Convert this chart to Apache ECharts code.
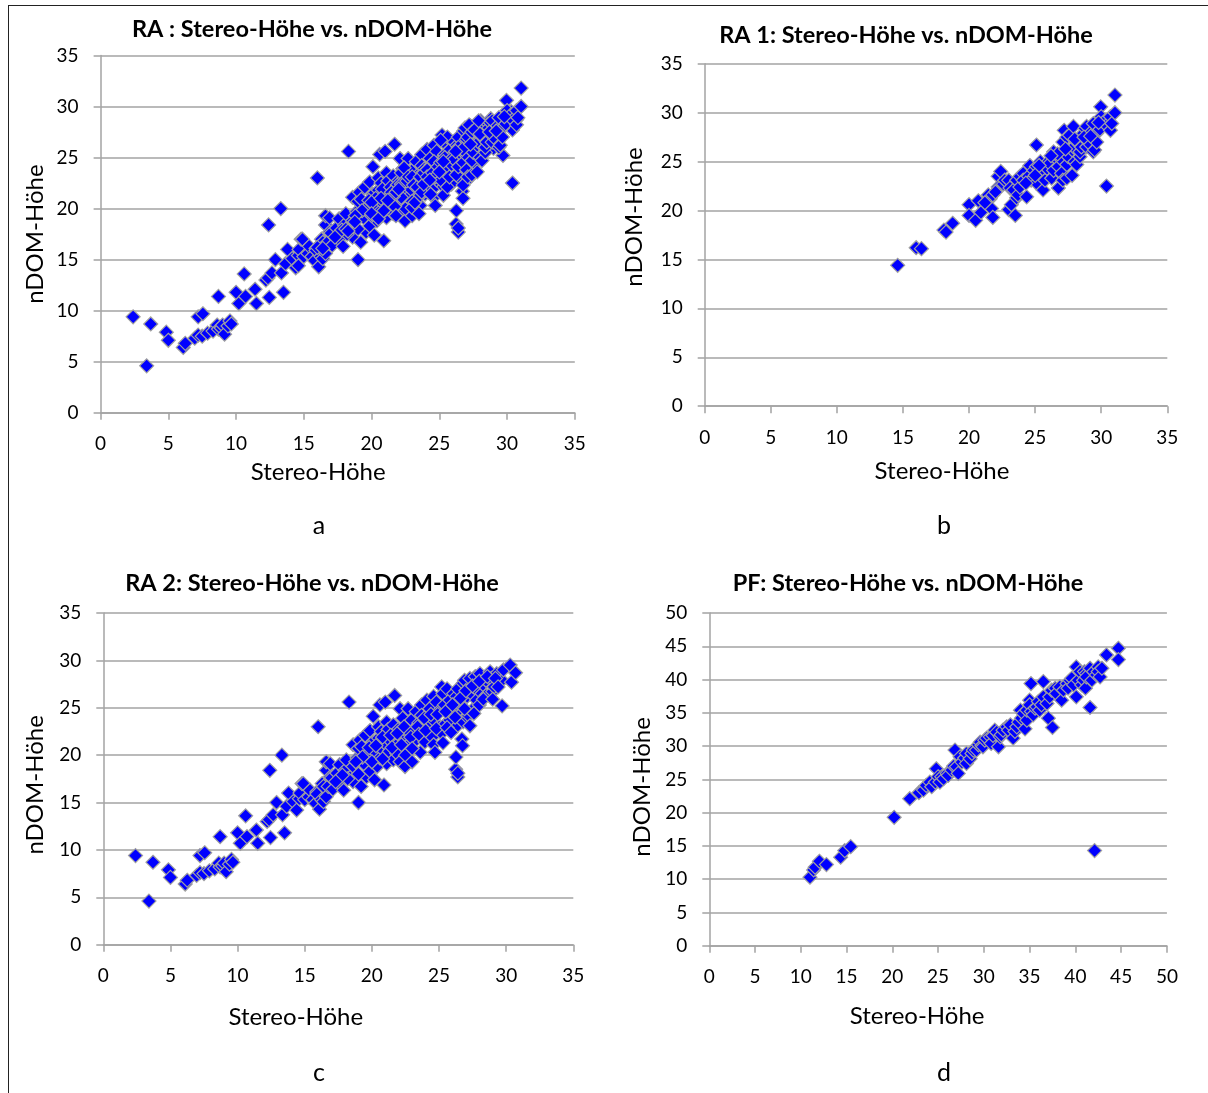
<!DOCTYPE html>
<html>
<head>
<meta charset="utf-8">
<script src="https://cdn.jsdelivr.net/npm/echarts@6/dist/echarts.min.js"></script>
<style>
html,body{margin:0;padding:0;background:#fff;}
#chart{width:1208px;height:1093px;}
</style>
</head>
<body>
<div id="chart"></div>
<script>
// ---------- DATA ----------
const panelTitles = ['RA : Stereo-Höhe vs. nDOM-Höhe', 'RA 1: Stereo-Höhe vs. nDOM-Höhe', 'RA 2: Stereo-Höhe vs. nDOM-Höhe', 'PF: Stereo-Höhe vs. nDOM-Höhe'];
const panelLetters = ['a', 'b', 'c', 'd'];
const xAxisTitle = 'Stereo-Höhe';
const yAxisTitle = 'nDOM-Höhe';
const axisMaxRA = 35;
const axisMaxPF = 50;
const tickStep = 5;

// RA 1 (panel b)
const ra1Points = [
[14.6,14.4],[16.0,16.2],[16.4,16.1],[18.1,18.0],[18.26,17.8],[18.76,18.7],[20.0,20.6],[20.0,19.5],[20.5,19.0],[20.7,21.0],
[20.9,19.8],[21.46,21.6],[21.6,21.2],[21.7,20.2],[21.8,19.3],[21.8,21.6],[22.2,23.5],[22.2,22.4],[22.4,24.0],[22.6,22.7],
[22.7,23.1],[23.0,23.1],[23.0,20.1],[23.1,22.3],[23.2,20.6],[23.36,22.1],[23.5,19.5],[23.6,23.1],[23.6,21.3],[23.7,21.6],
[23.85,23.5],[23.85,22.4],[24.1,23.8],[24.1,23.1],[24.36,21.4],[24.5,23.5],[24.6,24.6],[24.7,23.1],[24.9,24.1],[25.1,26.7],
[25.1,22.8],[25.1,24.5],[25.4,25.0],[25.4,23.8],[25.6,22.1],[25.6,24.1],[25.75,23.1],[25.9,24.3],[26.0,25.0],[26.1,24.8],
[26.25,23.3],[26.4,26.0],[26.4,24.1],[26.6,25.3],[26.76,22.3],[26.76,24.5],[27.0,25.2],[27.0,23.8],[27.1,23.1],[27.1,27.0],
[27.2,28.2],[27.4,27.5],[27.4,24.7],[27.4,23.3],[27.5,25.5],[27.6,27.7],[27.8,26.2],[27.8,23.6],[27.9,28.6],[27.9,26.5],
[28.0,25.0],[28.15,27.0],[28.15,24.7],[28.4,25.5],[28.4,27.2],[28.4,26.0],[28.5,26.5],[28.65,27.9],[28.77,28.4],[28.9,28.6],
[28.9,26.5],[29.0,27.0],[29.3,28.1],[29.4,28.9],[29.4,26.0],[29.5,26.2],[29.66,27.9],[29.66,27.0],[29.9,28.3],[29.96,30.6],
[30.0,29.6],[30.3,29.2],[30.4,28.7],[30.4,22.5],[30.7,28.2],[30.7,29.6],[30.8,28.9],[31.04,31.8],[31.04,30.0],
[24.3,22.8],[25.3,24.6],[26.7,25.8],[27.3,26.3],[28.0,27.3],[28.7,27.5],[29.2,27.6],[29.8,29.0],[26.2,25.6],[25.0,23.6],
[21.2,20.8],[22.0,21.9]
];

// RA 2 (panel c)
const ra2Points = [
[2.4,9.4],[3.4,4.6],[3.7,8.7],[4.85,7.9],[5.0,7.1],[6.1,6.4],[6.25,6.8],[6.95,7.3],[7.2,7.6],[7.2,9.4],
[7.55,9.7],[7.5,7.5],[7.9,7.8],[8.3,8.0],[8.6,8.6],[8.7,11.4],[8.7,8.2],[8.9,8.3],[9.0,8.6],[9.15,7.7],
[9.4,8.5],[9.55,9.0],[9.65,8.7],[10.0,11.8],[10.2,10.7],[10.6,13.6],[10.7,11.4],[11.4,12.1],[11.5,10.7],[12.2,13.0],
[12.35,13.2],[12.4,18.4],[12.45,11.3],[12.65,13.7],[12.9,15.0],[13.3,20.0],[13.35,13.7],[13.5,11.8],[13.65,14.6],[13.8,16.0],
[14.15,15.1],[14.4,14.2],[14.6,15.4],[14.65,16.0],[14.8,17.0],[14.9,17.0],[15.0,15.3],[15.3,15.6],[15.4,16.3],[15.6,15.3],
[15.8,14.9],[15.9,16.1],[15.9,15.9],[16.0,23.0],[16.1,14.3],[16.26,15.3],[16.3,17.0],[16.4,15.1],[16.4,16.7],[16.6,15.6],
[16.6,18.4],[16.6,19.3],[16.75,16.7],[16.9,17.7],[16.9,19.1],[17.0,17.6],[17.1,16.4],[17.4,18.1],[17.6,19.0],[17.6,17.0],
[17.9,16.3],[18.0,18.4],[18.1,19.5],[18.3,25.6],[18.4,17.7],[18.6,18.8],[18.6,17.2],[18.6,21.1],[18.9,19.7],[18.99,20.7],
[19.0,15.0],[19.1,21.6],[19.2,16.7],[19.24,20.9],[19.4,19.1],[19.5,22.1],[19.6,17.7],[19.66,20.1],[19.86,18.3],[19.86,22.6],
[20.1,21.4],[20.1,24.1],[20.2,17.4],[20.2,20.4],[20.4,18.8],[20.5,21.8],[20.5,23.0],[20.6,19.7],[20.6,25.3],[20.7,22.5],
[20.85,20.5],[20.9,16.85],[21.0,21.2],[21.0,25.6],[21.1,19.1],[21.1,23.5],[21.2,22.7],[21.3,21.6],[21.3,20.4],[21.6,19.5],
[21.6,23.2],[21.7,26.3],[21.85,21.1],[21.85,20.2],[21.96,22.7],[22.1,24.9],[22.1,19.3],[22.3,23.9],[22.3,21.8],[22.47,18.8],
[22.5,20.0],[22.6,22.5],[22.7,24.9],[22.8,21.2],[22.96,23.7],[23.0,19.3],[23.1,22.7],[23.3,24.6],[23.3,21.6],[23.5,23.4],
[23.6,20.3],[23.7,25.3],[23.7,24.2],[23.7,22.7],[23.95,21.4],[24.1,25.8],[24.2,23.2],[24.3,24.9],[24.5,21.9],[24.6,26.2],
[24.6,23.7],[24.6,21.1],[24.7,20.3],[24.8,25.6],[25.0,23.0],[25.1,24.8],[25.2,27.2],[25.2,22.3],[25.3,26.5],[25.3,21.3],
[25.4,25.3],[25.4,23.2],[25.6,27.0],[25.8,25.8],[25.8,23.7],[26.1,26.5],[26.1,24.9],[26.24,18.5],[26.26,19.8],[26.3,26.2],
[26.3,23.0],[26.4,27.0],[26.4,25.5],[26.4,17.7],[26.4,18.1],[26.7,21.7],[26.75,21.0],[26.8,27.6],[26.8,24.6],[26.8,23.5],
[26.9,27.9],[27.05,24.1],[27.1,26.2],[27.2,24.2],[27.3,28.1],[27.3,23.1],[27.4,26.5],[27.7,28.3],[27.7,25.1],[27.8,26.9],
[27.8,25.8],[28.0,25.3],[28.05,28.6],[28.2,26.5],[28.3,27.4],[28.5,27.9],[28.5,26.3],[28.8,28.8],[28.9,28.1],[29.0,26.7],
[29.1,27.2],[29.3,28.6],[29.7,27.9],[29.7,25.2],[29.8,29.0],[30.3,29.5],[30.4,27.7],[30.7,28.7],
[19.3,19.8],[19.8,20.8],[20.3,21.0],[20.8,21.9],[21.4,22.1],[21.9,22.3],[22.4,23.0],[22.9,22.3],[23.4,23.0],[23.9,23.9],
[24.4,24.3],[24.9,24.3],[25.5,24.6],[26.0,25.3],[26.6,26.0],[27.0,26.8],[27.5,27.3],[28.0,27.8],[28.6,28.3],[29.2,28.1],
[20.0,19.3],[20.8,19.6],[21.5,20.8],[22.2,21.1],[22.9,21.9],[23.5,22.2],[24.0,22.6],[24.8,22.8],[25.6,22.9],[26.2,24.0],
[26.9,24.9],[27.6,24.4],[28.3,25.9],[29.0,25.9],[29.4,27.2],[19.0,18.0],[18.2,17.5],[17.8,17.9],[17.3,17.2],[18.8,19.3],
[23.0,20.7],[25.9,22.4]
];

// RA (panel a) = RA 1 + RA 2
const raPoints = ra2Points.concat(ra1Points);

// PF (panel d)
const pfPoints = [
[11.0,10.3],[11.4,11.4],[11.56,11.8],[12.03,12.7],[12.8,12.2],[14.35,13.3],[14.8,14.3],[15.45,14.9],[20.2,19.3],[21.9,22.1],
[22.9,23.0],[23.4,23.4],[23.7,24.1],[24.1,24.6],[24.3,23.9],[24.7,24.6],[24.8,26.6],[25.0,25.4],[25.2,24.6],[25.4,25.4],
[25.6,25.1],[26.0,25.9],[26.1,25.6],[26.5,26.4],[26.7,27.0],[26.85,29.4],[27.0,26.9],[27.2,25.9],[27.4,28.4],[27.6,27.6],
[27.9,28.2],[28.1,27.4],[28.1,28.9],[28.5,28.1],[28.7,28.9],[28.85,29.4],[29.2,29.4],[29.4,30.2],[29.6,30.6],[29.8,30.1],
[29.9,29.9],[30.1,30.9],[30.3,31.2],[30.7,31.4],[30.8,30.4],[31.0,31.6],[31.2,32.4],[31.4,32.1],[31.6,29.9],[31.8,31.4],
[31.9,31.7],[32.1,32.4],[32.5,32.9],[32.7,32.4],[32.9,33.2],[33.2,31.2],[33.4,32.2],[33.6,32.9],[33.8,33.6],[34.0,35.4],
[34.1,34.2],[34.3,34.9],[34.5,32.6],[34.7,33.9],[34.7,35.4],[35.0,36.9],[35.0,36.2],[35.15,39.4],[35.2,35.2],[35.4,34.7],
[35.6,35.7],[35.8,35.9],[35.96,36.7],[36.1,35.4],[36.3,36.2],[36.5,39.7],[36.5,37.4],[36.9,36.4],[37.05,34.2],[37.2,37.4],
[37.4,38.4],[37.5,32.8],[37.8,38.7],[37.9,37.9],[38.3,38.9],[38.5,36.9],[38.7,38.4],[39.1,39.4],[39.2,38.7],[39.4,39.9],
[39.6,40.2],[39.8,39.2],[40.1,41.9],[40.1,37.4],[40.3,39.9],[40.5,41.2],[40.7,39.2],[40.9,39.9],[41.0,41.2],[41.1,38.7],
[41.2,40.9],[41.2,40.4],[41.6,35.8],[41.6,41.7],[41.8,39.9],[42.0,41.2],[42.1,14.3],[42.3,40.7],[42.5,41.9],[42.5,41.2],
[42.7,40.4],[42.9,41.7],[43.4,43.7],[44.7,44.7],[44.7,43.0]
];

// ---------- CHART ----------
const FONT = 'Lato';
const GRID_COLOR = '#a3a3a3';
const panelData = [raPoints, ra1Points, ra2Points, pfPoints];
const panelMax = [axisMaxRA, axisMaxRA, axisMaxRA, axisMaxPF];

const layout = [
  {grid:{left:100.6, top:55.4, width:474.2, height:357.4}, title:[312,12], letter:[319,526],
   xNameGap:47, xPad:[0,39,0,0], yNameGap:53, yPad:[0,0,0,0]},
  {grid:{left:704.7, top:63.8, width:462.6, height:342.4}, title:[906,18], letter:[944,526],
   xNameGap:53, xPad:[0,0,0,12], yNameGap:58, yPad:[0,0,0,36]},
  {grid:{left:103.3, top:613, width:470, height:331.7}, title:[312,566], letter:[319,1073],
   xNameGap:61, xPad:[0,85,0,0], yNameGap:56, yPad:[0,12,0,0]},
  {grid:{left:709.3, top:613, width:457.6, height:332.8}, title:[908,566], letter:[944,1073],
   xNameGap:58, xPad:[0,42,0,0], yNameGap:55, yPad:[0,15,0,0]}
];

const grids = [], xAxes = [], yAxes = [], series = [], titles = [], graphics = [];
layout.forEach((L, i) => {
  grids.push(Object.assign({outerBoundsMode:'none', containLabel:false}, L.grid));
  const lineStyle = {color: GRID_COLOR, width: 1.5};
  xAxes.push({
    gridIndex:i, type:'value', min:0, max:panelMax[i], interval:tickStep,
    name:xAxisTitle, nameLocation:'middle', nameGap:L.xNameGap,
    nameTextStyle:{fontFamily:FONT, fontSize:24, color:'#000', padding:L.xPad},
    axisLine:{show:true, onZero:false, lineStyle},
    axisTick:{show:true, inside:false, length:7, lineStyle},
    axisLabel:{show:true, margin:22, fontFamily:FONT, fontSize:19, color:'#000', showMinLabel:true, showMaxLabel:true, hideOverlap:false},
    splitLine:{show:false}
  });
  yAxes.push({
    gridIndex:i, type:'value', min:0, max:panelMax[i], interval:tickStep,
    name:yAxisTitle, nameLocation:'middle', nameGap:L.yNameGap, nameRotate:90,
    nameTextStyle:{fontFamily:FONT, fontSize:24, color:'#000', padding:L.yPad},
    axisLine:{show:true, onZero:false, lineStyle},
    axisTick:{show:true, inside:false, length:7, lineStyle},
    axisLabel:{show:true, margin:22, fontFamily:FONT, fontSize:19, color:'#000', showMinLabel:true, showMaxLabel:true, hideOverlap:false},
    splitLine:{show:true, lineStyle}
  });
  series.push({
    type:'scatter', xAxisIndex:i, yAxisIndex:i, data:panelData[i],
    symbol:'diamond', symbolSize:14,
    itemStyle:{color:'#0000ff', borderColor:'#a0a0a0', borderWidth:1.2, opacity:1},
    emphasis:{disabled:true}, silent:true, animation:false
  });
  titles.push({
    text:panelTitles[i], left:L.title[0]-5, top:L.title[1], textAlign:'center',
    textStyle:{fontFamily:FONT, fontWeight:'bold', fontSize:23.5, color:'#000'}
  });
  graphics.push({
    type:'text', x:L.letter[0], y:L.letter[1],
    style:{text:panelLetters[i], fill:'#000', fontFamily:FONT, fontSize:25, align:'center', verticalAlign:'middle'}
  });
});
graphics.push({type:'line', shape:{x1:8, y1:5.5, x2:1208, y2:5.5}, style:{stroke:'#222', lineWidth:1}});
graphics.push({type:'line', shape:{x1:8.5, y1:5, x2:8.5, y2:1093}, style:{stroke:'#222', lineWidth:1}});

const chart = echarts.init(document.getElementById('chart'), null, {renderer:'canvas'});
chart.setOption({
  backgroundColor:'#ffffff',
  animation:false,
  title:titles,
  grid:grids,
  xAxis:xAxes,
  yAxis:yAxes,
  series:series,
  graphic:graphics,
  tooltip:{show:false}
});
</script>
</body>
</html>
